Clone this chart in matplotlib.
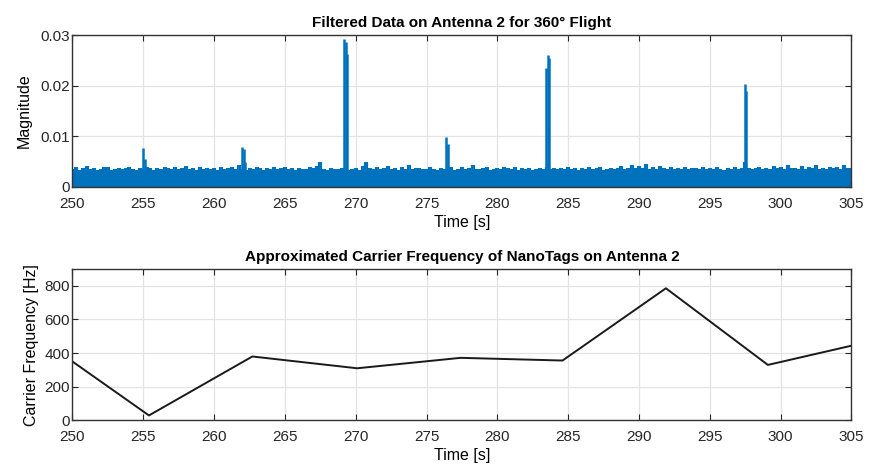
import numpy as np
import matplotlib
matplotlib.use('Agg')
from matplotlib import pyplot as plt

plt.rcParams['font.family'] = ['Liberation Sans', 'DejaVu Sans']

# top panel: noise tips every 0.25 s (in 1e-3 units)
noise_start = 250.0
noise_step = 0.25
noise_tops = [
    3.6, 3.9, 3.4, 3.8, 4.1, 3.5, 3.7, 3.3, 3.6, 3.9, 4.0, 3.4, 3.6, 3.8, 3.5, 3.7, 4.0, 3.6, 3.4, 3.8,
    3.5, 3.9, 3.7, 3.4, 3.8, 3.6, 4.0, 3.7, 3.5, 3.9, 3.6, 3.8, 4.2, 3.5, 3.7, 3.4, 3.9, 3.6, 3.8, 3.5,
    3.7, 3.4, 3.9, 3.6, 3.8, 4.0, 3.5, 4.3, 3.6, 3.4, 3.8, 3.5, 3.9, 3.7, 3.4, 3.8, 3.6, 4.0, 3.5, 3.7,
    3.9, 3.5, 3.7, 3.4, 3.8, 3.6, 3.5, 3.9, 3.7, 4.1, 4.9, 3.6, 3.4, 3.7, 3.5, 3.6, 3.8, 3.5, 3.4, 3.6,
    3.8, 3.4, 4.2, 5.0, 3.7, 3.5, 3.9, 3.6, 3.8, 4.1, 3.5, 3.7, 3.4, 3.9, 3.6, 4.4, 3.5, 3.7, 3.8, 3.6,
    3.5, 3.9, 3.6, 3.4, 3.8, 3.5, 3.7, 3.9, 3.4, 3.6, 4.0, 3.5, 3.8, 4.3, 3.6, 3.5, 3.7, 3.9, 3.4, 3.6,
    3.8, 3.5, 4.0, 3.7, 3.6, 3.9, 3.4, 3.8, 3.5, 3.7, 3.3, 3.6, 3.8, 3.5, 3.9, 3.6, 3.7, 3.5, 3.8, 3.6,
    3.9, 3.5, 3.7, 3.4, 3.8, 3.6, 4.0, 3.5, 3.7, 3.9, 3.4, 3.6, 3.8, 3.5, 3.7, 4.1, 3.6, 3.8, 4.4, 3.7,
    4.1, 3.8, 4.6, 3.6, 3.9, 3.5, 4.2, 3.7, 3.6, 4.0, 3.5, 3.8, 3.6, 3.9, 3.5, 3.7, 3.8, 3.5, 3.9, 3.6,
    3.7, 3.5, 3.9, 3.6, 3.4, 3.8, 3.6, 3.9, 3.5, 3.7, 4.9, 3.8, 3.5, 3.7, 3.9, 3.6, 3.8, 3.5, 4.2, 3.7,
    3.9, 3.6, 4.4, 3.7, 3.8, 3.5, 4.1, 3.6, 3.9, 3.7, 4.3, 3.6, 3.8, 3.5, 4.0, 3.7, 3.9, 3.6, 4.4, 3.8, 3.7,
]
noise_floor = 2.9  # solid part of the band (1e-3)

# tag pulses
spike_t = [255.0, 255.1, 262.0, 262.1, 262.2, 269.15, 269.28, 269.4,
           276.4, 276.5, 283.45, 283.55, 283.65, 297.45, 297.55]
spike_h = [7.7, 5.5, 7.9, 7.5, 5.0, 29.2, 28.6, 26.3,
           9.8, 8.5, 23.5, 26.0, 25.5, 20.3, 19.0]

# bottom panel
carrier_t = [250, 255.4, 262.7, 270.1, 277.4, 284.6, 291.9, 299.1, 305]
carrier_f = [350, 30, 380, 310, 372, 356, 785, 330, 444]

blue = '#0072BD'
xticks = list(range(250, 306, 5))


def style(ax):
    ax.set_xlim(250, 305)
    ax.set_xticks(xticks)
    ax.grid(True, color='#e3e3e3', linewidth=0.9)
    ax.set_axisbelow(True)
    ax.tick_params(direction='in', top=True, right=True, length=4,
                   labelsize=11, colors='#262626', width=0.8, pad=2)
    ax.tick_params(axis='x', pad=7)
    for s in ax.spines.values():
        s.set_color('#333333')
        s.set_linewidth(1.0)


fig = plt.figure(figsize=(8.69, 4.73), dpi=100)

ax1 = fig.add_axes([0.0834, 0.605, 0.8964, 0.3205])
t = noise_start + noise_step * np.arange(len(noise_tops))
tops = np.array(noise_tops) * 1e-3
ax1.fill_between([250, 305], 0, noise_floor * 1e-3, color=blue, lw=0)
ax1.vlines(t, 0, tops, color=blue, lw=3.0)
ax1.vlines(spike_t, 0, np.array(spike_h) * 1e-3, color=blue, lw=1.8)
style(ax1)
ax1.set_ylim(0, 0.03)
ax1.set_yticks([0, 0.01, 0.02, 0.03])
ax1.set_yticklabels(['0', '0.01', '0.02', '0.03'])
ax1.set_title('Filtered Data on Antenna 2 for 360\u00b0 Flight', fontsize=11,
              fontweight='bold', pad=6)
ax1.set_xlabel('Time [s]', fontsize=11.5, labelpad=3)
ax1.set_ylabel('Magnitude', fontsize=11.5, labelpad=6)

ax2 = fig.add_axes([0.0834, 0.111, 0.8964, 0.3205])
ax2.plot(carrier_t, carrier_f, color='#1a1a1a', lw=1.4)
style(ax2)
ax2.set_ylim(0, 900)
ax2.set_yticks([0, 200, 400, 600, 800])
ax2.set_title('Approximated Carrier Frequency of NanoTags on Antenna 2', fontsize=11,
              fontweight='bold', pad=6)
ax2.set_xlabel('Time [s]', fontsize=11.5, labelpad=3)
ax2.set_ylabel('Carrier Frequency [Hz]', fontsize=11.5, labelpad=4)

fig.savefig('out.png', dpi=100)
